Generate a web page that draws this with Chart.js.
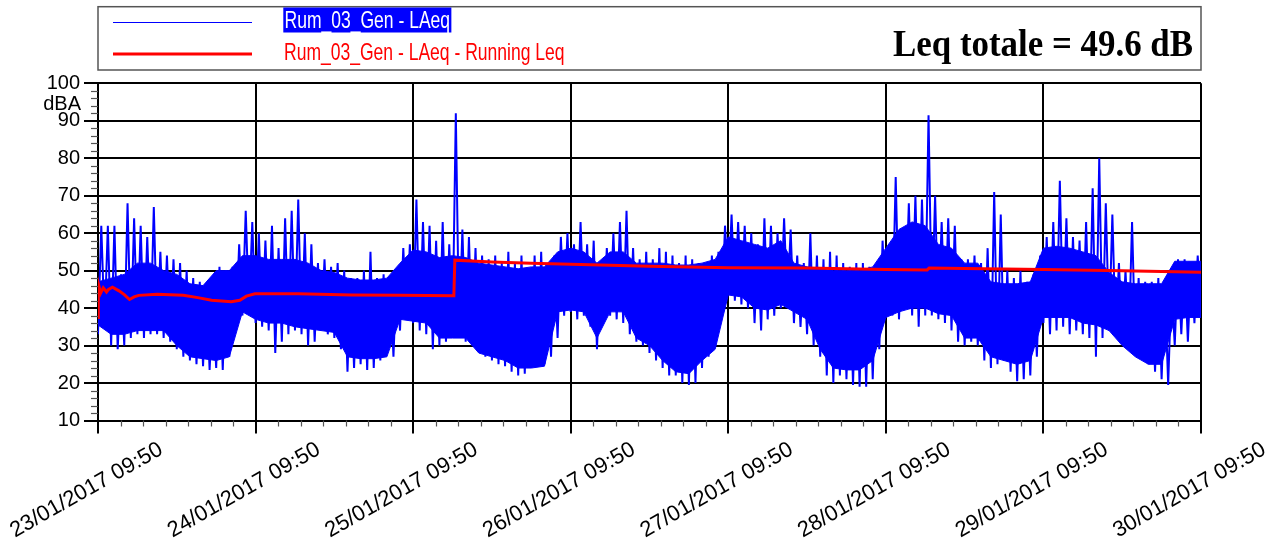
<!DOCTYPE html>
<html>
<head>
<meta charset="utf-8">
<title>Rum_03_Gen - LAeq</title>
<script src="https://cdn.jsdelivr.net/npm/chart.js@4.4.1/dist/chart.umd.min.js"></script>
<style>
  html, body { margin: 0; padding: 0; background: #fff; }
  #wrap { width: 1279px; height: 548px; position: relative; }
</style>
</head>
<body>
<div id="wrap"><canvas id="c"></canvas></div>
<script>
// Time axis: hours elapsed since 23/01/2017 09:50, one major tick per day
const dayLabels = [
  '23/01/2017 09:50', '24/01/2017 09:50', '25/01/2017 09:50', '26/01/2017 09:50',
  '27/01/2017 09:50', '28/01/2017 09:50', '29/01/2017 09:50', '30/01/2017 09:50'
];
const yTicks = [10, 20, 30, 40, 50, 60, 70, 80, 90, 100];

// LAeq hourly extremes (dBA), one value per hour starting 23/01 09:50
const hourHigh = [
  62, 62, 62, 49, 68, 64, 62, 59, 67, 55, 54, 53, 52, 50, 48, 47, 45, 42, 51, 50, 51, 57, 66, 63,
  60, 58, 62, 56, 64, 66, 69, 60, 57, 52, 53, 51, 52, 50, 48, 48, 50, 55, 48, 49, 48, 50, 56, 57,
  69, 63, 62, 58, 63, 57, 92, 61, 59, 56, 54, 53, 54, 52, 55, 52, 54, 50, 54, 55, 52, 54, 59, 60,
  57, 63, 57, 58, 52, 56, 60, 63, 66, 56, 53, 55, 53, 56, 55, 54, 52, 54, 53, 52, 51, 54, 55, 62,
  65, 63, 62, 60, 57, 64, 62, 60, 64, 61, 54, 52, 60, 54, 53, 55, 54, 52, 51, 52, 52, 51, 50, 58,
  57, 75, 58, 68, 70, 69, 91.5, 70, 63, 64, 62, 53, 53, 54, 52, 56, 71, 65, 50, 48, 50, 47, 49, 54,
  59, 63, 74, 64, 59, 58, 63, 72, 80, 68, 65, 52, 50, 63, 48, 47, 47, 48, 46, 47, 53, 53, 52, 54
];
const hourLow = [
  33, 35, 30, 29, 30, 32, 33, 32, 33, 33, 32, 31, 29, 27, 26, 25, 24.5, 23.5, 24, 23.5, 27, 34, 38, 39,
  36, 35, 34, 28, 31, 33, 34, 33, 30, 31, 34, 33, 32, 29, 23, 24, 25, 23.5, 24, 26, 28, 27, 34, 37,
  36, 34, 33, 29, 30, 31, 34, 33, 31, 30, 29, 27, 26, 25, 24.5, 23, 22, 22.5, 24, 24.5, 25, 27, 32, 38,
  39, 37, 38, 35, 29, 37, 38, 37, 36, 33, 31, 30, 28, 26, 24, 22, 22, 20, 19.5, 20, 24, 27, 30, 38,
  44, 42, 41, 40, 36, 34, 37, 38, 40, 41, 36, 35, 33, 30, 27, 22, 20, 22, 21, 19.5, 19, 19, 21, 29,
  39, 38, 37, 40, 38, 35, 38, 38, 37, 36, 34, 31, 30, 31, 30, 26, 24, 25, 26, 23, 20.5, 21, 22, 27,
  36, 33, 34, 35, 33, 34, 33, 32, 27, 32, 34, 33, 32, 31, 29, 27, 25, 23, 21, 19.5, 30, 33, 31, 36,
  38
];

// Dense body of the LAeq trace (dBA), every 2 hours from 23/01 09:50
const coreTop = [
  47, 48, 49, 52, 52, 50, 49, 46.5, 46, 50, 50, 54,
  54, 53, 53, 53, 52, 50, 49.5, 48, 47.5, 47.5, 48, 52,
  55.5, 55, 53.5, 54, 53.5, 52, 51.5, 51, 50.5, 51, 51, 55,
  56, 55, 52, 55, 55, 52, 52, 52, 51.5, 51.5, 52, 53,
  59, 58, 57, 56, 58, 52, 51, 50.5, 50, 50, 50, 51,
  56, 61, 63, 62, 57, 56, 52, 52, 47, 46.5, 46.5, 47,
  56, 56.5, 56, 55, 54, 49.5, 47, 46.5, 46.5, 46.5, 52.5, 52.5,
  52.5
];
const coreBottom = [
  35.5, 33, 33, 34, 34, 34, 30, 27, 26.5, 26, 27, 39,
  37, 36, 36, 35, 34.5, 34, 33.5, 27, 26.5, 26.5, 27, 37,
  36.5, 36, 32, 32, 32, 28, 27, 26, 24, 24, 24.5, 39,
  39.5, 39, 32, 39, 39, 32, 30, 26, 23, 22.5, 26, 29,
  43.5, 43, 40, 39.5, 41, 39, 37, 29, 24, 23.5, 23.5, 26,
  37.5, 39, 40, 40, 38.5, 38, 32, 32, 27, 26, 25, 26,
  37.5, 37.5, 37.5, 36, 35.5, 34, 30, 27, 25, 25, 37, 37.5,
  37.5
];

// Running Leq (dBA) at the given elapsed hours
const runHours = [
  0, 0.05, 0.4, 0.8, 1.3, 1.6, 2.2, 3.2, 4.0, 4.8,
  5.5, 6.2, 9, 13, 15.2, 17.3, 20.3, 21.6, 22.6, 23.9,
  30.5, 38.6, 46, 54.2, 54.35, 60, 66, 72, 84, 96,
  108, 120, 126.3, 126.6, 132, 144, 156, 168
];
const runLeq = [
  37.5, 46.5, 44.0, 45.4, 44.3, 45.0, 45.6, 44.6, 43.6, 42.3,
  43.0, 43.4, 43.7, 43.4, 42.8, 42.1, 41.7, 42.1, 43.2, 43.8,
  43.8, 43.5, 43.4, 43.3, 52.8, 52.3, 52.0, 51.7, 51.2, 50.8,
  50.7, 50.3, 50.2, 50.7, 50.6, 50.3, 50.0, 49.6
];
const leqTotal = 49.6;

const BLUE = '#0000ff';
const RED = '#ff0000';
const SANS = '"Liberation Sans", Arial, Helvetica, sans-serif';

// Each hour is drawn as its low followed by its high, giving the spiky trace
const laeqPoints = [];
for (let h = 0; h < hourHigh.length; h++) {
  laeqPoints.push({ x: h, y: hourLow[h] });
  laeqPoints.push({ x: h + 0.5, y: hourHigh[h] });
}
laeqPoints.push({ x: hourHigh.length, y: hourLow[hourHigh.length] });

const coreTopPoints = coreTop.map((v, i) => ({ x: i * 2, y: v }));
const coreBottomPoints = coreBottom.map((v, i) => ({ x: i * 2, y: v }));
const runPoints = runHours.map((h, i) => ({ x: h, y: runLeq[i] }));

function seg(ctx, x1, y1, x2, y2) {
  ctx.beginPath(); ctx.moveTo(x1, y1); ctx.lineTo(x2, y2); ctx.stroke();
}

// Minor ticks, slanted date labels, unit label and the legend frame
const decorations = {
  id: 'decorations',
  afterDraw(chart) {
    const { ctx, chartArea: a, scales: { x, y } } = chart;
    ctx.save();

    ctx.strokeStyle = '#555';
    ctx.lineWidth = 1.2;
    for (let v = y.min; v < y.max; v += 2) {
      if (v % 10 === 0) continue;
      const py = Math.round(y.getPixelForValue(v)) + 0.5;
      seg(ctx, a.left - 7, py, a.left, py);
    }
    for (let d = 0; d < dayLabels.length - 1; d++) {
      for (let k = 1; k < 7; k++) {
        const px = Math.round(x.getPixelForValue(d * 24 + k * 24 / 7)) + 0.5;
        seg(ctx, px, a.bottom, px, a.bottom + 6);
      }
    }

    ctx.fillStyle = '#000';
    ctx.font = '22px ' + SANS;
    ctx.textAlign = 'center';
    ctx.textBaseline = 'alphabetic';
    x.ticks.forEach(t => {
      const px = x.getPixelForValue(t.value);
      ctx.save();
      ctx.translate(px - 8.5, a.bottom + 75);
      ctx.rotate(-29.5 * Math.PI / 180);
      ctx.fillText(t.label, 0, 0);
      ctx.restore();
    });

    ctx.font = '20px ' + SANS;
    ctx.textAlign = 'right';
    ctx.fillText('dBA', a.left - 17, 110);

    // Legend frame spanning the plot width
    ctx.strokeStyle = '#555';
    ctx.lineWidth = 1.5;
    ctx.strokeRect(a.left, 6.7, a.right - a.left, 63.3);

    const ds = chart.data.datasets;
    const laeq = ds.find(d => d.id === 'laeq');
    const run = ds.find(d => d.id === 'run');
    const squeeze = 0.73;

    ctx.strokeStyle = laeq.borderColor;
    ctx.lineWidth = 1.2;
    seg(ctx, a.left + 15, 22.5, a.left + 154, 22.5);
    ctx.font = '24px ' + SANS;
    ctx.textAlign = 'left';
    const w1 = ctx.measureText(laeq.label).width * squeeze;
    ctx.fillStyle = laeq.borderColor;
    ctx.fillRect(283.3, 7.5, w1 + 2.5, 25);
    ctx.save();
    ctx.translate(284.5, 28.3);
    ctx.scale(squeeze, 1);
    ctx.fillStyle = '#fff';
    ctx.fillText(laeq.label, 0, 0);
    ctx.restore();

    ctx.strokeStyle = run.borderColor;
    ctx.lineWidth = 3;
    seg(ctx, a.left + 15, 54, a.left + 154, 54);
    ctx.save();
    ctx.translate(284, 60);
    ctx.scale(squeeze, 1);
    ctx.fillStyle = run.borderColor;
    ctx.fillText(run.label, 0, 0);
    ctx.restore();

    const total = 'Leq totale = ' + leqTotal.toFixed(1) + ' dB';
    ctx.font = 'bold 37px "Liberation Serif", "Times New Roman", serif';
    const tw = ctx.measureText(total).width;
    const fit = Math.min(1, 300 / tw);
    ctx.save();
    ctx.translate(a.right - 8, 56);
    ctx.scale(fit, 1);
    ctx.textAlign = 'right';
    ctx.fillStyle = '#000';
    ctx.fillText(total, 0, 0);
    ctx.restore();

    ctx.restore();
  }
};

new Chart(document.getElementById('c'), {
  type: 'line',
  data: {
    datasets: [
      {
        id: 'run',
        label: 'Rum_03_Gen - LAeq - Running Leq',
        data: runPoints,
        borderColor: RED,
        borderWidth: 3,
        pointRadius: 0,
        tension: 0,
        fill: false,
        order: 0
      },
      {
        id: 'laeq',
        label: 'Rum_03_Gen - LAeq',
        data: laeqPoints,
        borderColor: BLUE,
        borderWidth: 2,
        pointRadius: 0,
        tension: 0,
        fill: false,
        order: 1
      },
      {
        id: 'laeqBodyTop',
        label: 'Rum_03_Gen - LAeq',
        data: coreTopPoints,
        borderColor: BLUE,
        backgroundColor: BLUE,
        borderWidth: 1,
        pointRadius: 0,
        tension: 0,
        fill: '+1',
        order: 2
      },
      {
        id: 'laeqBodyBottom',
        label: 'Rum_03_Gen - LAeq',
        data: coreBottomPoints,
        borderColor: BLUE,
        borderWidth: 1,
        pointRadius: 0,
        tension: 0,
        fill: false,
        order: 3
      }
    ]
  },
  options: {
    responsive: true,
    maintainAspectRatio: false,
    animation: false,
    devicePixelRatio: 1,
    layout: { padding: { top: 83.3, right: 78, left: 0, bottom: 0 } },
    plugins: { legend: { display: false }, tooltip: { enabled: false } },
    scales: {
      x: {
        type: 'linear',
        min: 0,
        max: 168,
        afterFit(s) { s.height = 127.5; },
        ticks: {
          display: false,
          stepSize: 24,
          callback: v => dayLabels[Math.round(v / 24)]
        },
        grid: { color: '#000', lineWidth: 2, tickLength: 13 },
        border: { color: '#000', width: 2 }
      },
      y: {
        type: 'linear',
        min: yTicks[0],
        max: yTicks[yTicks.length - 1],
        afterFit(s) { s.width = 98; },
        afterBuildTicks(s) { s.ticks = yTicks.map(v => ({ value: v })); },
        ticks: {
          color: '#000',
          padding: 4,
          font: { family: SANS, size: 20 }
        },
        grid: { color: '#000', lineWidth: 2, tickLength: 14 },
        border: { color: '#000', width: 2 }
      }
    }
  },
  plugins: [decorations]
});
</script>
</body>
</html>
